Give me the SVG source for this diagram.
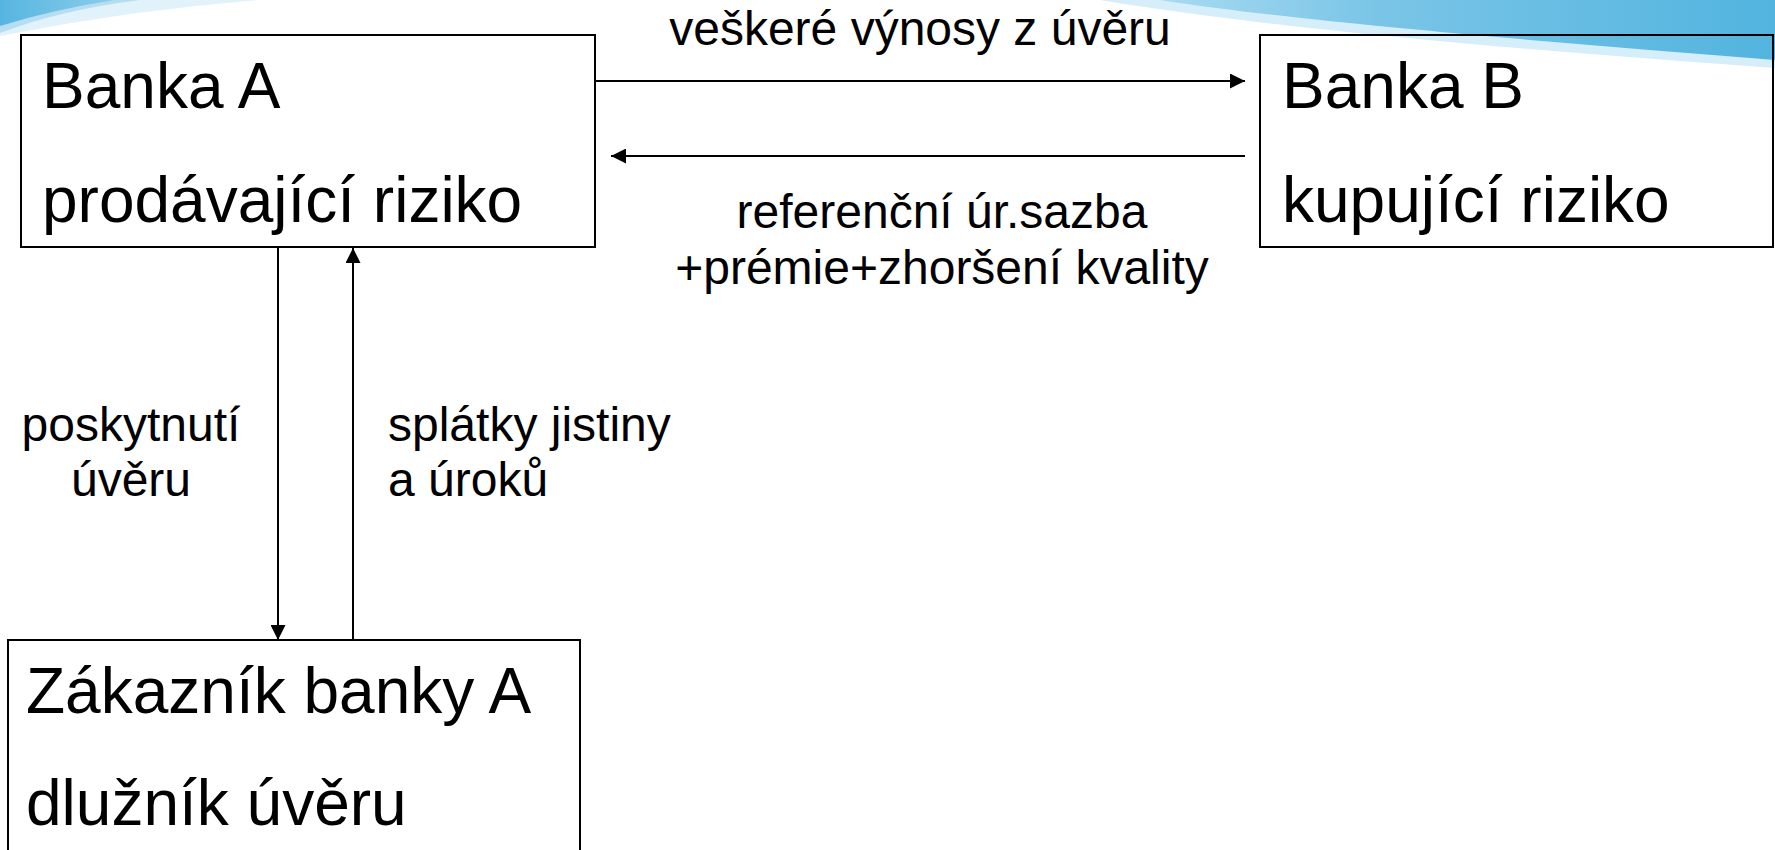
<svg xmlns="http://www.w3.org/2000/svg" width="1775" height="850" viewBox="0 0 1775 850">
<defs>
<style>
.box{fill:none;stroke:#000;stroke-width:2}
.big{font-family:"Liberation Sans",Arial,sans-serif;font-size:64px;fill:#000}
.lbl{font-family:"Liberation Sans",Arial,sans-serif;font-size:48px;fill:#000}
.ln{stroke:#000;stroke-width:2;fill:none}
</style>
<marker id="ah" viewBox="0 0 15 15" refX="15" refY="7.5" markerWidth="15" markerHeight="15" markerUnits="userSpaceOnUse" orient="auto">
<path d="M0,0 L15,7.5 L0,15 Z" fill="#000"/>
</marker>
<linearGradient id="swR" x1="0" y1="0" x2="1" y2="0">
<stop offset="0" stop-color="#a9daf0"/>
<stop offset="0.35" stop-color="#7ac5e7"/>
<stop offset="1" stop-color="#52b4df"/>
</linearGradient>
<linearGradient id="swL" x1="0" y1="0" x2="1" y2="0">
<stop offset="0" stop-color="#56b5e0"/>
<stop offset="1" stop-color="#8ccdeb"/>
</linearGradient>
</defs>
<rect width="1775" height="850" fill="#fff"/>
<g id="decor">
<path d="M0,0 L260,0 Q130,10 0,36 Z" fill="#e1f2fa"/>
<path d="M0,0 L140,0 Q60,10 0,33 Z" fill="#b5def2"/>
<path d="M0,0 L115,0 Q55,9 0,26 Z" fill="url(#swL)"/>
<path d="M1100,0 L1775,0 L1775,68 C1550,52 1280,30 1100,0 Z" fill="#d6eef9"/>
<path d="M1160,0 L1775,0 L1775,60 C1550,42 1300,22 1160,0 Z" fill="url(#swR)"/>
</g>
<g id="connectors">
<line class="ln" x1="596" y1="81" x2="1245" y2="81" marker-end="url(#ah)"/>
<line class="ln" x1="1245" y1="156" x2="611" y2="156" marker-end="url(#ah)"/>
<line class="ln" x1="278" y1="248" x2="278" y2="640" marker-end="url(#ah)"/>
<line class="ln" x1="353" y1="640" x2="353" y2="248" marker-end="url(#ah)"/>
<text class="lbl" x="920" y="45" text-anchor="middle">veškeré výnosy z úvěru</text>
<text class="lbl" x="942" y="228" text-anchor="middle">referenční úr.sazba</text>
<text class="lbl" x="942" y="284" text-anchor="middle">+prémie+zhoršení kvality</text>
<text class="lbl" x="131" y="441" text-anchor="middle">poskytnutí</text>
<text class="lbl" x="131" y="496" text-anchor="middle">úvěru</text>
<text class="lbl" x="388" y="441">splátky jistiny</text>
<text class="lbl" x="388" y="496">a úroků</text>
</g>
<g id="bankaA">
<rect class="box" x="21" y="35" width="574" height="212"/>
<text class="big" x="42" y="108">Banka A</text>
<text class="big" x="42" y="222">prodávající riziko</text>
</g>
<g id="bankaB">
<rect class="box" x="1260" y="35" width="513" height="212"/>
<text class="big" x="1282" y="108">Banka B</text>
<text class="big" x="1282" y="222">kupující riziko</text>
</g>
<g id="zakaznik">
<rect class="box" x="8" y="640" width="572" height="220"/>
<text class="big" x="26" y="713">Zákazník banky A</text>
<text class="big" x="26" y="825">dlužník úvěru</text>
</g>
</svg>
